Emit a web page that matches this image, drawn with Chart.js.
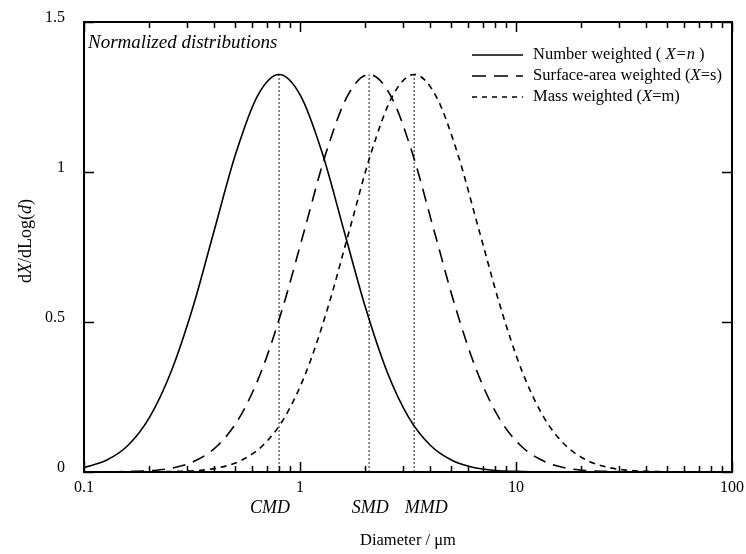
<!DOCTYPE html>
<html>
<head>
<meta charset="utf-8">
<script src="https://cdn.jsdelivr.net/npm/chart.js@4/dist/chart.umd.min.js"></script>
<style>
  html, body { margin: 0; padding: 0; background: #fff; }
  #wrap { width: 746px; height: 554px; }
</style>
</head>
<body>
<div id="wrap"><canvas id="chart" width="746" height="554"></canvas></div>
<script>
// Number weighted curve (diameter in um, dX/dLog(d))
const numberDiam = [0.1, 0.127, 0.16, 0.201, 0.253, 0.319, 0.401, 0.505, 0.636, 0.8, 1.007, 1.268, 1.596, 2.01, 2.53, 3.185, 4.01, 5.048, 6.355, 8.0, 10.07, 12.68];
const numberVals = [0.015, 0.039, 0.089, 0.182, 0.334, 0.548, 0.806, 1.063, 1.254, 1.325, 1.254, 1.063, 0.806, 0.548, 0.334, 0.182, 0.089, 0.039, 0.015, 0.005, 0.002, 0.0005];

// Surface-area weighted curve
const surfaceDiam = [0.132, 0.166, 0.209, 0.263, 0.331, 0.417, 0.525, 0.661, 0.832, 1.048, 1.319, 1.66, 2.09, 2.631, 3.313, 4.17, 5.25, 6.609, 8.32, 10.47, 13.19, 16.6, 20.9, 26.31, 33.13];
const surfaceVals = [0.0005, 0.002, 0.005, 0.015, 0.039, 0.089, 0.182, 0.334, 0.548, 0.806, 1.063, 1.254, 1.325, 1.254, 1.063, 0.806, 0.548, 0.334, 0.182, 0.089, 0.039, 0.015, 0.005, 0.002, 0.0005];

// Mass weighted curve
const massDiam = [0.213, 0.268, 0.338, 0.426, 0.536, 0.674, 0.849, 1.069, 1.346, 1.694, 2.133, 2.685, 3.38, 4.255, 5.357, 6.744, 8.49, 10.69, 13.46, 16.94, 21.33, 26.85, 33.8, 42.55, 53.57];
const massVals = [0.0005, 0.002, 0.005, 0.015, 0.039, 0.089, 0.182, 0.334, 0.548, 0.806, 1.063, 1.254, 1.325, 1.254, 1.063, 0.806, 0.548, 0.334, 0.182, 0.089, 0.039, 0.015, 0.005, 0.002, 0.0005];

// median diameters marked with dotted lines
const markerNames = ["CMD", "SMD", "MMD"];
const markerDiam = [0.8, 2.09, 3.38];
const markerTop = [1.325, 1.325, 1.325];

const xTicks = [0.1, 0.2, 0.3, 0.4, 0.5, 0.6, 0.7, 0.8, 0.9, 1, 2, 3, 4, 5, 6, 7, 8, 9, 10, 20, 30, 40, 50, 60, 70, 80, 90, 100];
const xTickLabels = { 0.1: "0.1", 1: "1", 10: "10", 100: "100" };
const yTicks = [0, 0.5, 1, 1.5];
const yTickLabels = ["0", "0.5", "1", "1.5"];

const legendItems = [
  [["Number weighted ( ", false], ["X=n", true], [" )", false]],
  [["Surface-area weighted (", false], ["X", true], ["=s)", false]],
  [["Mass weighted (", false], ["X", true], ["=m)", false]],
];
const legendDash = [[], [14, 8], [5, 5]];

const SERIF = "'Liberation Serif', 'DejaVu Serif', serif";

function toPoints(xs, ys) {
  return xs.map((x, i) => ({ x: x, y: ys[i] }));
}

function drawParts(ctx, parts, x, y, size) {
  parts.forEach(([text, italic]) => {
    ctx.font = (italic ? "italic " : "") + size + "px " + SERIF;
    ctx.fillText(text, x, y);
    x += ctx.measureText(text).width;
  });
  return x;
}

function partsWidth(ctx, parts, size) {
  let w = 0;
  parts.forEach(([text, italic]) => {
    ctx.font = (italic ? "italic " : "") + size + "px " + SERIF;
    w += ctx.measureText(text).width;
  });
  return w;
}

// frame, inward ticks, legend, titles and marker labels
const overlay = {
  id: "overlay",
  afterDraw(chart) {
    const ctx = chart.ctx;
    const a = chart.chartArea;
    const xs = chart.scales.x;
    const ys = chart.scales.y;
    ctx.save();
    ctx.strokeStyle = "#000";
    ctx.fillStyle = "#000";

    // ticks pointing inward
    ctx.lineWidth = 1.5;
    xTicks.forEach((v) => {
      const px = Math.round(xs.getPixelForValue(v)) + 0.5;
      const major = xTickLabels[v] !== undefined;
      const len = major ? 10 : 6;
      ctx.beginPath();
      ctx.moveTo(px, a.bottom);
      ctx.lineTo(px, a.bottom - len);
      ctx.moveTo(px, a.top);
      ctx.lineTo(px, a.top + len);
      ctx.stroke();
    });
    yTicks.forEach((v) => {
      const py = Math.round(ys.getPixelForValue(v)) + 0.5;
      ctx.beginPath();
      ctx.moveTo(a.left, py);
      ctx.lineTo(a.left + 10, py);
      ctx.moveTo(a.right, py);
      ctx.lineTo(a.right - 10, py);
      ctx.stroke();
    });

    // frame
    ctx.lineWidth = 2;
    ctx.strokeRect(a.left, a.top, a.right - a.left, a.bottom - a.top);

    // y tick labels, sitting a little above their ticks
    ctx.textAlign = "right";
    ctx.textBaseline = "middle";
    ctx.font = "16px " + SERIF;
    yTicks.forEach((v, i) => {
      ctx.fillText(yTickLabels[i], a.left - 19, ys.getPixelForValue(v) - 4);
    });

    // title inside
    ctx.textBaseline = "alphabetic";
    ctx.textAlign = "left";
    ctx.font = "italic 19px " + SERIF;
    ctx.fillText("Normalized distributions", a.left + 4, a.top + 26);

    // legend
    const lx0 = 472, lx1 = 523, tx = 533;
    const rows = [55, 76, 97];
    legendItems.forEach((parts, i) => {
      ctx.lineWidth = 1.5;
      ctx.setLineDash(legendDash[i]);
      ctx.beginPath();
      ctx.moveTo(lx0, rows[i]);
      ctx.lineTo(lx1, rows[i]);
      ctx.stroke();
      ctx.setLineDash([]);
      ctx.textBaseline = "middle";
      drawParts(ctx, parts, tx, rows[i], 16.5);
    });

    // marker labels under the axis
    ctx.textAlign = "center";
    ctx.textBaseline = "middle";
    ctx.font = "italic 18px " + SERIF;
    const nudge = [-9, 1, 12];
    markerNames.forEach((name, i) => {
      ctx.fillText(name, xs.getPixelForValue(markerDiam[i]) + nudge[i], 508);
    });

    // x title
    ctx.font = "16.5px " + SERIF;
    ctx.fillText("Diameter / \u03bcm", (a.left + a.right) / 2, 541);

    // y title
    const yParts = [["d", false], ["X", true], ["/dLog(", false], ["d", true], [")", false]];
    ctx.translate(26, (a.top + a.bottom) / 2 - 6);
    ctx.rotate(-Math.PI / 2);
    ctx.textAlign = "left";
    const w = partsWidth(ctx, yParts, 18);
    drawParts(ctx, yParts, -w / 2, 0, 18);

    ctx.restore();
  },
};

const lineStyle = {
  pointRadius: 0,
  borderColor: "#000",
  borderWidth: 1.6,
  cubicInterpolationMode: "monotone",
  fill: false,
};

const datasets = [
  Object.assign({ label: "Number weighted", data: toPoints(numberDiam, numberVals), borderDash: [] }, lineStyle),
  Object.assign({ label: "Surface-area weighted", data: toPoints(surfaceDiam, surfaceVals), borderDash: [13, 8] }, lineStyle),
  Object.assign({ label: "Mass weighted", data: toPoints(massDiam, massVals), borderDash: [6, 5] }, lineStyle),
];
markerNames.forEach((name, i) => {
  datasets.push({
    label: name,
    data: [{ x: markerDiam[i], y: 0 }, { x: markerDiam[i], y: markerTop[i] }],
    borderColor: "#666",
    borderWidth: 1.5,
    borderDash: [2, 2],
    pointRadius: 0,
    fill: false,
  });
});

new Chart(document.getElementById("chart").getContext("2d"), {
  type: "line",
  data: { datasets: datasets },
  plugins: [overlay],
  options: {
    responsive: false,
    animation: false,
    layout: { padding: { top: 22, right: 14, left: 0, bottom: 0 } },
    plugins: { legend: { display: false }, tooltip: { enabled: false } },
    scales: {
      x: {
        type: "logarithmic",
        min: 0.1,
        max: 100,
        grid: { display: false, drawTicks: false },
        border: { display: false },
        afterBuildTicks: (scale) => {
          scale.ticks = xTicks.map((v) => ({ value: v }));
        },
        afterFit: (scale) => {
          scale.height = 82;
          scale.paddingLeft = 0;
          scale.paddingRight = 0;
        },
        ticks: {
          autoSkip: false,
          maxRotation: 0,
          padding: 6,
          color: "#000",
          font: { family: SERIF, size: 16 },
          callback: (v) => (xTickLabels[v] !== undefined ? xTickLabels[v] : ""),
        },
      },
      y: {
        type: "linear",
        min: 0,
        max: 1.5,
        grid: { display: false, drawTicks: false },
        border: { display: false },
        afterBuildTicks: (scale) => {
          scale.ticks = yTicks.map((v) => ({ value: v }));
        },
        afterFit: (scale) => {
          scale.width = 84;
          scale.paddingTop = 0;
          scale.paddingBottom = 0;
        },
        ticks: { display: false },
      },
    },
  },
});
</script>
</body>
</html>
